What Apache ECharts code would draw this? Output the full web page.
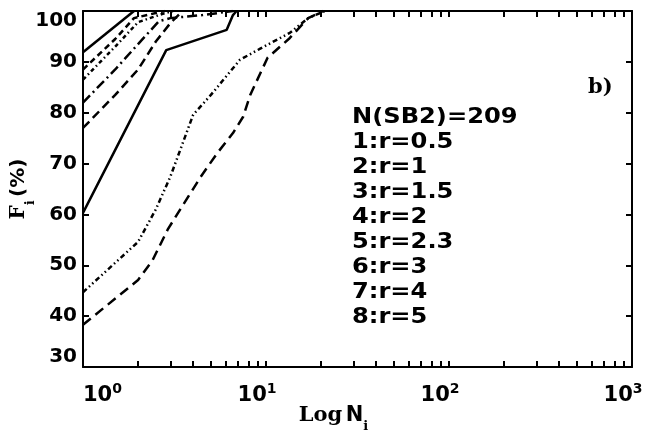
<!DOCTYPE html>
<html><head><meta charset="utf-8">
<script src="https://cdn.jsdelivr.net/npm/echarts@6/dist/echarts.min.js"></script>
<style>html,body{margin:0;padding:0;background:#fff}#c{width:645px;height:439px}</style>
</head><body><div id="c"></div>
<script>
// axis ticks / labels
const xTicks = [1,2,3,4,5,6,7,8,9,10,20,30,40,50,60,70,80,90,100,200,300,400,500,600,700,800,900,1000];
const xLabels = [1,10,100,1000];
const yMin = 30, yMax = 100, yStep = 10;

// legend / annotation text
const header = 'N(SB2)=209';
const panelTag = 'b)';
const seriesNames = ['1:r=0.5','2:r=1','3:r=1.5','4:r=2','5:r=2.3','6:r=3','7:r=4','8:r=5'];

// series values [N_i, F_i(%)]
const s1 = [[1,91.9],[1.9,100]];
const s2 = [[1,88.5],[1.5,94.5],[1.9,98.6],[2.5,99.6],[2.8,100]];
const s3 = [[1,86.5],[1.5,93],[2,97.8],[2.7,99.4],[3.1,100]];
const s4 = [[1,82],[1.5,88.5],[2,93.5],[2.6,98],[3,98.6],[4.5,99.2],[6.6,100]];
const s5 = [[1,77],[1.5,83.5],[2,88.5],[2.5,94],[3,97.6],[3.5,100]];
const s6 = [[1,60.3],[2.85,92.3],[6.1,96.3],[6.6,99.2],[6.9,100]];
const s7 = [[1,44.7],[2,54.6],[2.5,61],[3,67.4],[4,79.6],[5,83.5],[7.2,90.4],[9.3,92.6],[13.5,95.7],[17,98.6],[21,100]];
const s8 = [[1,38.3],[2,47.1],[2.4,51],[2.9,57],[3.4,61],[4.4,67.4],[5.4,72],[6.6,76],[7.5,79.2],[8.2,83.5],[10.2,90.8],[13.5,94.7],[17,98.6],[20.5,100]];
const allData = [s1,s2,s3,s4,s5,s6,s7,s8];
const dashes = ['solid',[6,4],[4,3,1.5,3],[10,4,2,4],[9,5],'solid',[5,3,1.5,3,1.5,3],[10,6]];

const BOLD = '"DejaVu Sans"';
const axisLineStyle = {color:'#000', width:2};
const tickStyle = {color:'#000', width:2};

const chart = echarts.init(document.getElementById('c'), null, {renderer:'canvas'});
chart.setOption({
  backgroundColor:'#ffffff',
  animation:false,
  grid:{left:83, right:13, top:11, bottom:72, containLabel:false, outerBoundsMode:'none'},
  xAxis:[{
    type:'log', logBase:10, min:1, max:1000, position:'bottom',
    axisLine:{lineStyle:axisLineStyle},
    axisTick:{inside:true, length:6, customValues:xTicks, lineStyle:tickStyle},
    splitLine:{show:false}, minorTick:{show:false},
    axisLabel:{customValues:xLabels, margin:15, padding:[0,18,0,0], alignMinLabel:'left',
      formatter:function(v){return '{b|10}{s|'+Math.round(Math.log10(v))+'}';},
      rich:{b:{fontFamily:BOLD,fontWeight:'bold',fontSize:21,color:'#000',lineHeight:24,verticalAlign:'bottom'},
            s:{fontFamily:BOLD,fontWeight:'bold',fontSize:14,color:'#000',lineHeight:15,verticalAlign:'top'}}},
    name:'{l|Log} {n|N}{i|i}', nameLocation:'middle', nameGap:38, nameMoveOverlap:false,
    nameTextStyle:{padding:[0,48,0,0], rich:{
      l:{fontFamily:'"DejaVu Serif"',fontWeight:'bold',fontSize:21,color:'#000',lineHeight:28,verticalAlign:'top'},
      n:{fontFamily:BOLD,fontWeight:'bold',fontSize:21,color:'#000',lineHeight:28,verticalAlign:'top'},
      i:{fontFamily:'"DejaVu Serif"',fontWeight:'bold',fontSize:13,color:'#000',lineHeight:14,verticalAlign:'bottom'}}}
  },{
    type:'log', logBase:10, min:1, max:1000, position:'top',
    axisLine:{lineStyle:axisLineStyle},
    axisTick:{inside:true, length:6, customValues:xTicks, lineStyle:tickStyle},
    axisLabel:{show:false}, splitLine:{show:false}
  }],
  yAxis:[{
    type:'value', min:yMin, max:yMax, interval:yStep, position:'left',
    axisLine:{show:true, lineStyle:axisLineStyle},
    axisTick:{show:true, inside:true, length:6, lineStyle:tickStyle},
    splitLine:{show:false},
    axisLabel:{margin:6, fontFamily:BOLD, fontWeight:'bold', fontSize:20, color:'#000',
      verticalAlignMinLabel:'bottom', verticalAlignMaxLabel:'top'},
    name:'{f|F}{i|i} {p|(%)}', nameLocation:'middle', nameGap:46, nameRotate:90, nameMoveOverlap:false,
    nameTextStyle:{rich:{
      f:{fontFamily:'"DejaVu Serif"',fontWeight:'bold',fontSize:20,color:'#000',lineHeight:28,verticalAlign:'top'},
      p:{fontFamily:BOLD,fontWeight:'bold',fontSize:20,color:'#000',lineHeight:28,verticalAlign:'top'},
      i:{fontFamily:'"DejaVu Serif"',fontWeight:'bold',fontSize:13,color:'#000',lineHeight:14,verticalAlign:'bottom'}}}
  },{
    type:'value', min:yMin, max:yMax, interval:yStep, position:'right',
    axisLine:{show:true, lineStyle:axisLineStyle},
    axisTick:{show:true, inside:true, length:6, lineStyle:tickStyle},
    axisLabel:{show:false}, splitLine:{show:false}
  }],
  series: allData.map(function(d,k){
    return {name:seriesNames[k], type:'line', xAxisIndex:0, yAxisIndex:0, data:d,
      showSymbol:false, symbol:'none', clip:true,
      lineStyle:{color:'#000', width:2.5, type:dashes[k]}};
  }),
  graphic:[
    {type:'text', left:352, top:105, scaleX:1.15, style:{
      text:[header].concat(seriesNames).join('\n'),
      font:'bold 21px "DejaVu Sans"', fill:'#000', lineHeight:25}},
    {type:'text', left:588, top:77, style:{text:panelTag, font:'bold 21px "DejaVu Serif"', fill:'#000'}}
  ]
});
</script></body></html>
